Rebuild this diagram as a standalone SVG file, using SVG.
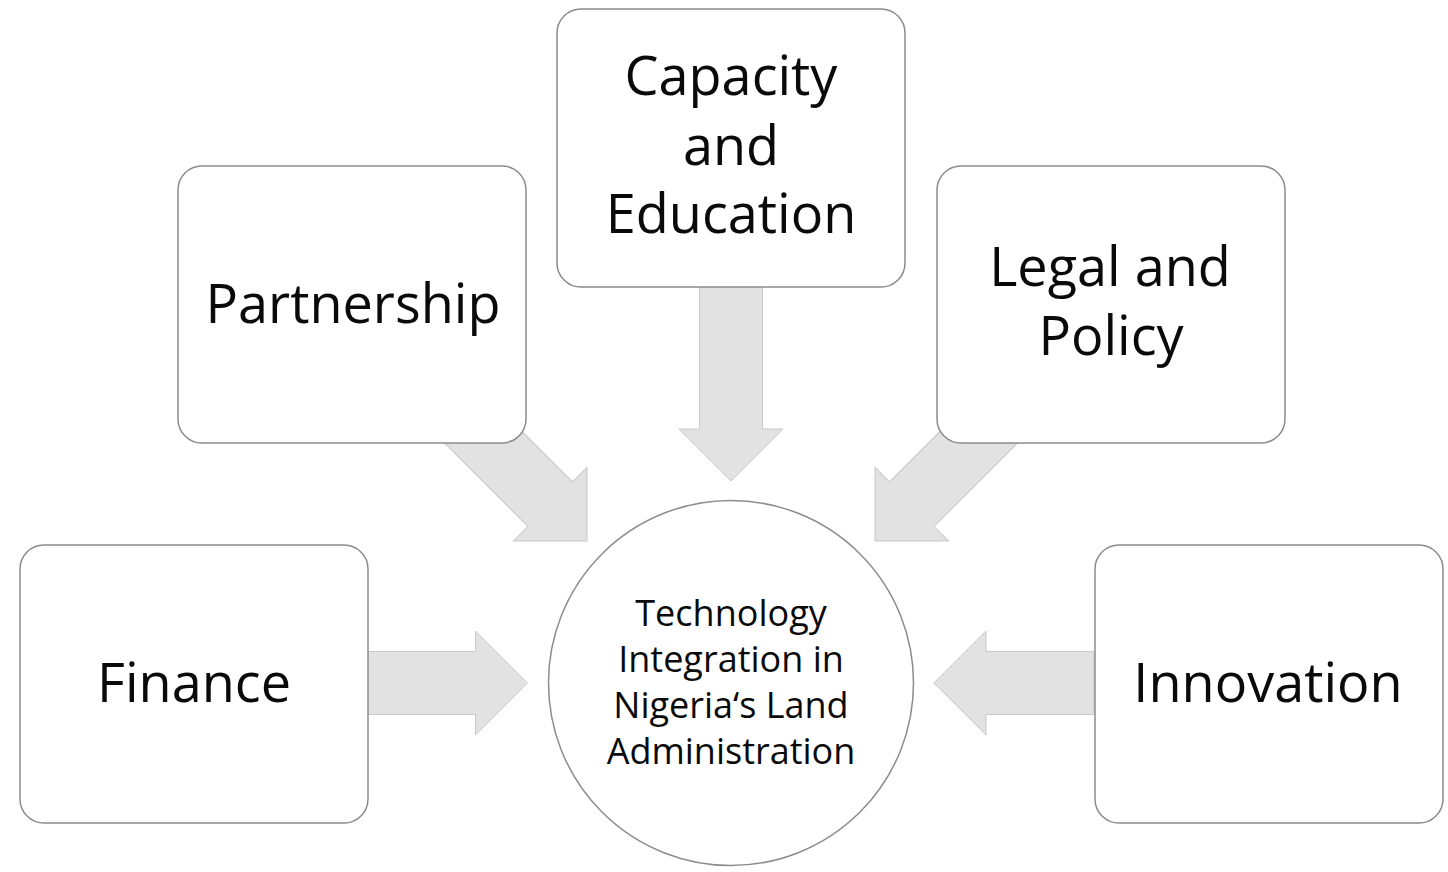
<svg xmlns="http://www.w3.org/2000/svg" width="1448" height="872" viewBox="0 0 1448 872">
<style>
.box{fill:#ffffff;stroke:#8c8c8c;stroke-width:1.5}
.arrow{fill:#e2e2e2;stroke:#c8c8c8;stroke-width:1}
.big{font-family:"Open Sans","Liberation Sans",sans-serif;font-size:54px;fill:#0a0a0a;text-anchor:middle}
.small{font-family:"Open Sans","Liberation Sans",sans-serif;font-size:36px;fill:#0a0a0a;text-anchor:middle}
</style>
<defs>
<path id="arr" d="M0,0 L-52,-52 L-52,-31.5 L-200,-31.5 L-200,31.5 L-52,31.5 L-52,52 Z"/>
<path id="arrH" d="M0,0 L-52,-52 L-52,-31.5 L-160,-31.5 L-160,31.5 L-52,31.5 L-52,52 Z"/>
</defs>
<rect width="1448" height="872" fill="#ffffff"/>
<g id="connectors">
<use href="#arr" class="arrow" transform="translate(731,481) rotate(90)"/>
<use href="#arr" class="arrow" transform="translate(587,541) rotate(45)"/>
<use href="#arr" class="arrow" transform="translate(875,541) rotate(135)"/>
<use href="#arrH" class="arrow" transform="translate(527.5,683)"/>
<use href="#arrH" class="arrow" transform="translate(934,683) rotate(180)"/>
</g>
<g id="node-center">
<circle cx="731" cy="683" r="182.5" class="box"/>
<text class="small" x="731" y="626">Technology</text>
<text class="small" x="731" y="672">Integration in</text>
<text class="small" x="731" y="718">Nigeria‘s Land</text>
<text class="small" x="731" y="764">Administration</text>
</g>
<g id="node-capacity">
<rect x="557" y="9" width="348" height="278" rx="24" class="box"/>
<text class="big" x="731" y="95">Capacity</text>
<text class="big" x="731" y="165">and</text>
<text class="big" x="731" y="233">Education</text>
</g>
<g id="node-partnership">
<rect x="178" y="166" width="348" height="277" rx="24" class="box"/>
<text class="big" x="353" y="323">Partnership</text>
</g>
<g id="node-legal">
<rect x="937" y="166" width="348" height="277" rx="24" class="box"/>
<text class="big" x="1110" y="286">Legal and</text>
<text class="big" x="1111" y="355">Policy</text>
</g>
<g id="node-finance">
<rect x="20" y="545" width="348" height="278" rx="24" class="box"/>
<text class="big" x="194" y="702">Finance</text>
</g>
<g id="node-innovation">
<rect x="1095" y="545" width="348" height="278" rx="24" class="box"/>
<text class="big" x="1268" y="702">Innovation</text>
</g>
</svg>
